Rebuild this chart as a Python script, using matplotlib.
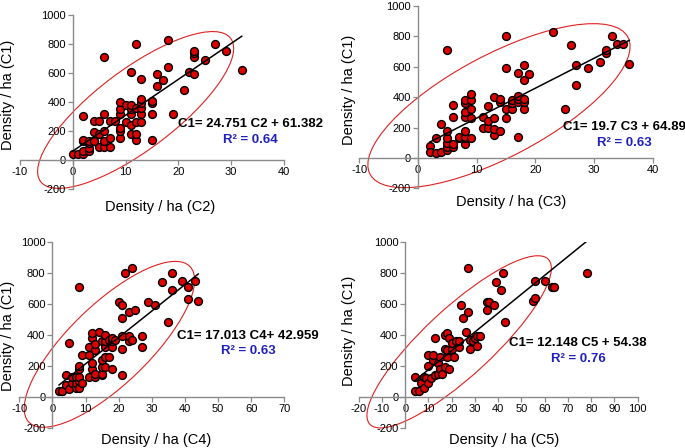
import numpy as np
import matplotlib
matplotlib.use("Agg")
import matplotlib.pyplot as plt
from matplotlib.patches import Ellipse
from matplotlib.transforms import ScaledTranslation

plt.rcParams['font.family'] = ['Liberation Sans', 'DejaVu Sans']
plt.rcParams['axes.unicode_minus'] = False

# C1 against C2
c2_x = [0, 1, 2, 2, 2, 2, 2, 3, 3, 3, 4, 4, 4, 5, 5, 5, 6, 6, 6, 6, 6, 7, 7, 7, 8,
        9, 9, 9, 9, 9, 9, 10, 10, 11, 11, 11, 11, 11, 11, 12, 12, 12, 12, 12, 13, 13,
        13, 13, 13, 13, 15, 15, 15, 15, 16, 16, 17, 18, 18, 19, 21, 22, 23, 23, 23,
        23, 25, 27, 29, 32, 3, 4]
c2_y = [40, 40, 40, 60, 130, 140, 300, 60, 80, 120, 130, 190, 270, 90, 180, 270, 90,
        130, 200, 320, 710, 90, 150, 270, 270, 150, 200, 220, 320, 350, 400, 260, 380,
        180, 240, 320, 350, 380, 610, 140, 180, 260, 360, 800, 260, 320, 360, 390, 420,
        560, 140, 320, 390, 410, 510, 590, 550, 640, 830, 320, 480, 610, 590, 710, 740,
        750, 690, 800, 750, 620, 130, 130]

# C1 against C3
c3_x = [2, 2, 3, 3, 4, 4, 5, 5, 5, 5, 5, 5, 6, 6, 6, 6, 7, 7, 8, 8, 8, 8, 8, 8, 8, 8,
        9, 9, 9, 9, 9, 11, 11, 12, 12, 12, 13, 13, 13, 13, 14, 14, 14, 15, 15, 15, 15,
        16, 16, 16, 17, 17, 17, 17, 17, 18, 18, 18, 18, 18, 19, 23, 25, 26, 27, 27, 29,
        31, 32, 32, 33, 34, 35, 36]
c3_y = [80, 40, 30, 130, 40, 220, 50, 70, 100, 130, 180, 710, 70, 90, 270, 350, 130,
        140, 90, 130, 140, 180, 270, 300, 360, 380, 130, 260, 320, 380, 420, 200, 270,
        200, 240, 340, 150, 190, 260, 400, 180, 370, 390, 260, 320, 590, 800, 320, 360,
        380, 140, 370, 390, 410, 560, 320, 370, 390, 510, 610, 550, 830, 320, 740, 480,
        610, 590, 630, 690, 710, 800, 750, 750, 620]

# C1 against C4
c4_x = [2, 3, 3, 4, 4, 5, 5, 6, 6, 7, 7, 7, 8, 8, 8, 8, 8, 8, 9, 9, 11, 11, 11, 12, 12,
        12, 12, 13, 13, 13, 13, 14, 15, 15, 15, 15, 15, 16, 16, 16, 16, 16, 17, 17, 18,
        18, 18, 18, 19, 20, 21, 21, 21, 21, 21, 22, 23, 23, 23, 24, 24, 25, 27, 27, 29,
        31, 33, 35, 36, 36, 39, 41, 41, 43, 44]
c4_y = [40, 40, 40, 80, 140, 50, 350, 90, 130, 60, 90, 130, 60, 100, 130, 180, 200,
        710, 90, 270, 130, 270, 320, 180, 220, 380, 410, 130, 150, 300, 340, 420, 140,
        150, 190, 240, 360, 190, 260, 320, 360, 400, 260, 370, 180, 320, 360, 380, 370,
        610, 140, 310, 390, 510, 590, 800, 360, 390, 550, 370, 830, 560, 320, 390, 610,
        590, 740, 480, 690, 800, 750, 630, 710, 750, 620]

# C1 against C5
c5_x = [4, 4, 6, 7, 8, 8, 9, 10, 10, 10, 11, 12, 12, 13, 13, 14, 14, 15, 15, 16, 17, 17,
        17, 18, 18, 18, 19, 19, 20, 20, 21, 22, 23, 23, 24, 25, 26, 27, 27, 28, 28, 29,
        30, 31, 31, 32, 35, 35, 36, 38, 39, 41, 42, 43, 55, 56, 56, 60, 63, 64, 78]
c5_y = [40, 130, 40, 90, 60, 130, 120, 90, 200, 270, 120, 240, 270, 140, 380, 150, 220,
        180, 260, 150, 190, 310, 400, 260, 300, 410, 180, 380, 310, 350, 260, 360, 320,
        360, 590, 510, 420, 550, 830, 310, 370, 360, 380, 330, 390, 390, 560, 610, 610,
        590, 740, 690, 800, 480, 620, 640, 750, 750, 710, 710, 800]

xs = [c2_x, c3_x, c4_x, c5_x]
ys = [c2_y, c3_y, c4_y, c5_y]
names = ["C2", "C3", "C4", "C5"]
slopes = [24.751, 19.7, 17.013, 12.148]
intercepts = [61.382, 64.89, 42.959, 54.38]
equations = ["C1= 24.751 C2 + 61.382", "C1= 19.7 C3 + 64.89",
             "C1= 17.013 C4+ 42.959", "C1= 12.148 C5 + 54.38"]
r2 = ["0.64", "0.63", "0.63", "0.76"]
xlims = [(-10, 40), (-10, 40), (-10, 70), (-20, 100)]

# layout in figure pixels (685 x 448)
W, H = 685.0, 448.0
boxes = [(20, 15, 284, 189), (359.3, 6, 652.7, 188.3),
         (19.3, 241.7, 284.3, 428), (358.7, 241.7, 637.7, 428)]
xlabel_pos = [(0.53, -0.103), (0.517, -0.075), (0.518, -0.064), (0.52, -0.064)]
ylabel_pos = [(-0.045, 0.54), (-0.035, 0.54), (-0.043, 0.494), (-0.035, 0.52)]
text_pos = [(250, 124, 140), (624, 127, 143), (248, 336, 351), (578, 343, 359)]
# ellipse: centre in data, half axes in px, angle
ellipses = [((11.9, 345), 119, 40, 37), ((13.8, 344), 146, 51, 28),
            ((17.2, 339), 112, 40, 44), ((23.2, 355), 121.5, 34, 42.7)]

fig = plt.figure(figsize=(6.85, 4.48), dpi=100)

for i in range(4):
    x0, y0, x1, y1 = boxes[i]
    ax = fig.add_axes([x0 / W, 1 - y1 / H, (x1 - x0) / W, (y1 - y0) / H])
    ax.set_xlim(*xlims[i])
    ax.set_ylim(-200, 1000)
    ax.set_xticks(np.arange(xlims[i][0], xlims[i][1] + 1, 10))
    ax.set_yticks(np.arange(-200, 1001, 200))
    for s in ["top", "right"]:
        ax.spines[s].set_visible(False)
    ax.spines["left"].set_position(("data", 0))
    ax.spines["bottom"].set_position(("data", 0))
    for s in ["left", "bottom"]:
        ax.spines[s].set_color("#8a8a8a")
        ax.spines[s].set_linewidth(1.0)
    ax.tick_params(direction="out", length=3.5, width=0.9, color="#8a8a8a",
                   labelsize=8, pad=1.5)
    ax.patch.set_visible(False)

    ax.scatter(xs[i], ys[i], s=32, c="#e00000", edgecolors="black",
               linewidths=1.0, zorder=3)
    lx = np.array([min(xs[i]), max(xs[i])])
    ax.plot(lx, slopes[i] * lx + intercepts[i], color="black", lw=1.1, zorder=4)

    (cx, cy), a, b, ang = ellipses[i]
    tr = fig.dpi_scale_trans + ScaledTranslation(cx, cy, ax.transData)
    ell = Ellipse((0, 0), 2 * a / 100, 2 * b / 100, angle=ang, transform=tr,
                  fill=False, edgecolor="#e02020", lw=0.8, clip_on=False)
    ax.add_patch(ell)

    ax.set_xlabel("Density / ha (%s)" % names[i], fontsize=10.5)
    ax.set_ylabel("Density / ha (C1)", fontsize=10.5)
    ax.xaxis.label.set_verticalalignment("center")
    ax.yaxis.label.set_verticalalignment("center")
    ax.xaxis.set_label_coords(*xlabel_pos[i])
    ax.yaxis.set_label_coords(*ylabel_pos[i])

    tx, ty1, ty2 = text_pos[i]
    fig.text(tx / W, 1 - ty1 / H, equations[i], ha="center", va="center",
             fontsize=9.5, fontweight="bold", color="black")
    fig.text(tx / W, 1 - ty2 / H, "R² = " + r2[i], ha="center", va="center",
             fontsize=9.5, fontweight="bold", color="#2020c0")

fig.savefig("out.png", dpi=100)
